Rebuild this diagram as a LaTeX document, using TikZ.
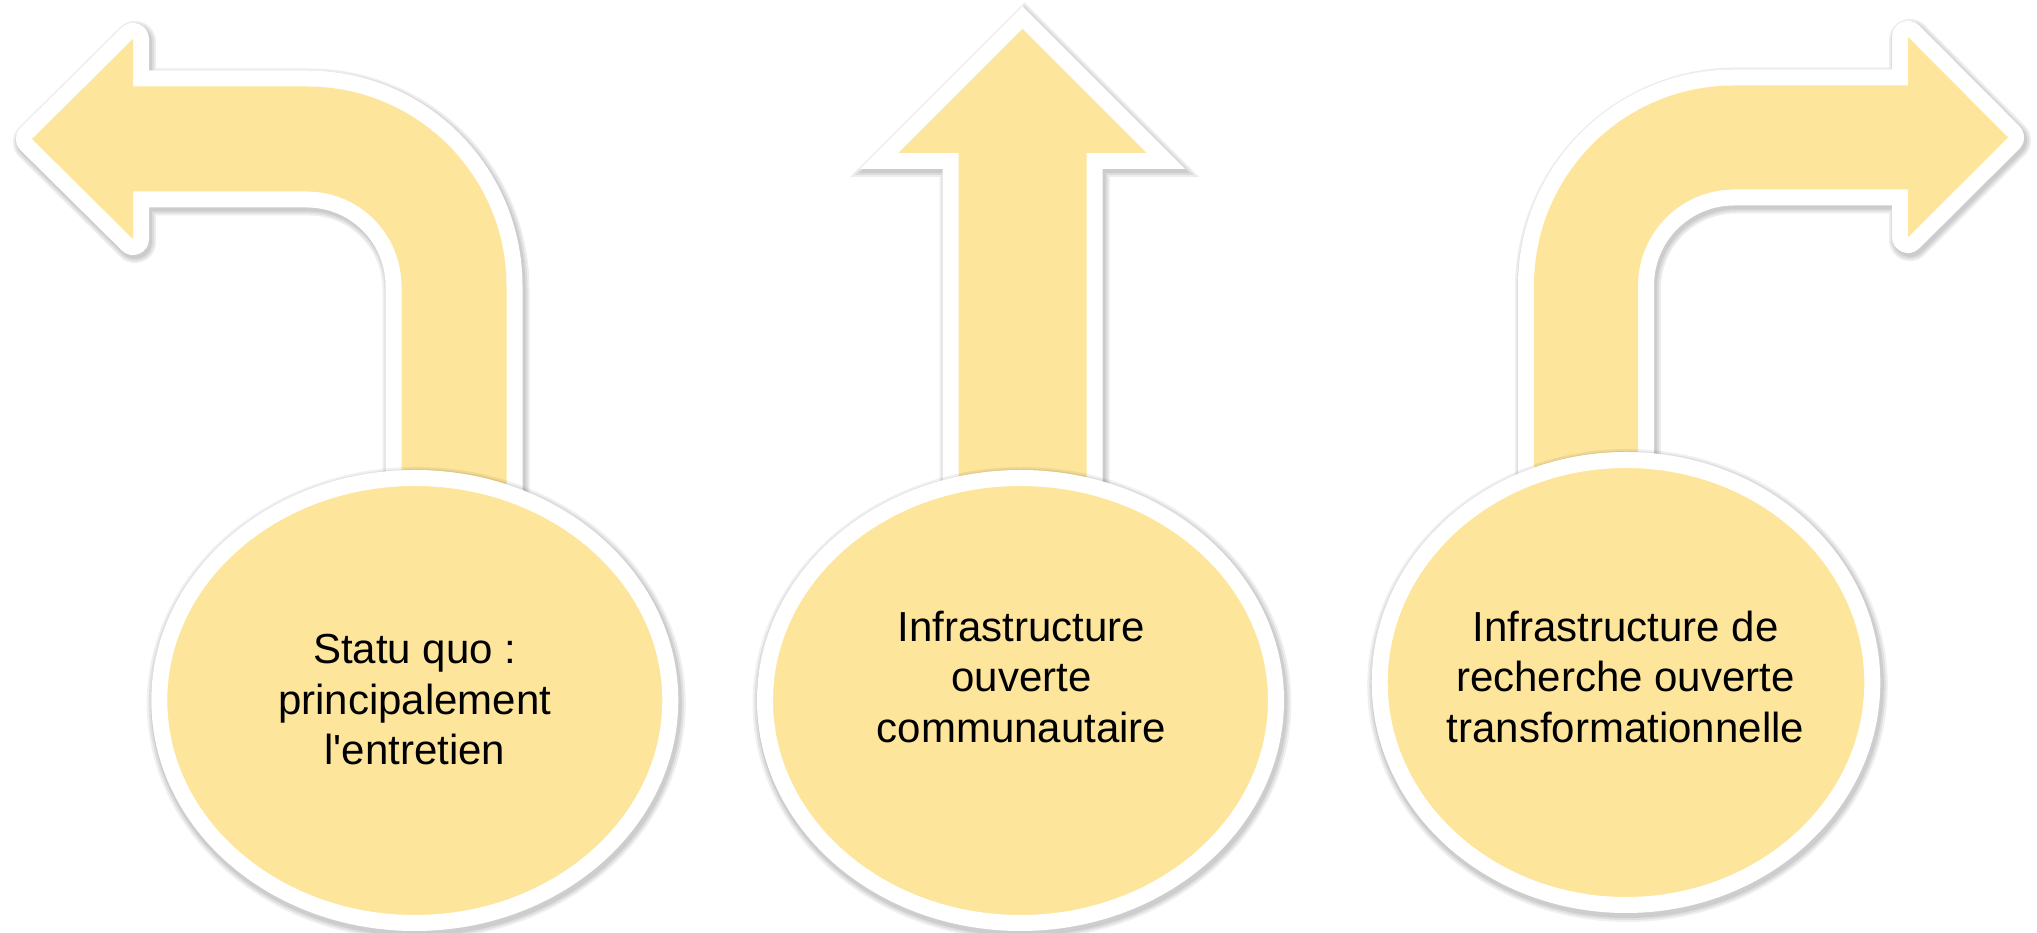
\documentclass[tikz,border=0pt]{standalone}
\usepackage{fontspec}
\setmainfont{Liberation Sans}
\usetikzlibrary{shapes.geometric}
\definecolor{gold}{RGB}{253,229,155}
\newcommand{\apos}{\XeTeXglyph\XeTeXcharglyph"27 }
\begin{document}
\begin{tikzpicture}[x=1pt,y=1pt,
  arrL/.style={insert path={(506.5,373) -- (506.5,647) arc[start angle=0,end angle=90,radius=199.5pt] -- (133,846.5) -- (133,894) -- (32,794) -- (133,694) -- (133,741.5) -- (307,741.5) arc[start angle=90,end angle=0,radius=94.5pt] -- (401.5,373) -- cycle}},
  arrM/.style={insert path={(958.5,373) -- (958.5,780) -- (898.5,780) -- (1022.5,904) -- (1146.5,780) -- (1086.5,780) -- (1086.5,373) -- cycle}},
  arrR/.style={insert path={(1534,373) -- (1534,647.5) arc[start angle=180,end angle=90,radius=200pt] -- (1908,847.5) -- (1908,896) -- (2008,795.5) -- (1908,696) -- (1908,743.5) -- (1734,743.5) arc[start angle=90,end angle=180,radius=96pt] -- (1638,373) -- cycle}},
  shadowline/.style={draw=black, line width=#1, opacity=0.07, shift={(2,-3)}},
  rim/.style={draw=white, line width=32pt},
  body/.style={fill=gold},
  bubble/.style={ellipse, draw=white, line width=16pt, fill=gold, inner sep=0pt,
    minimum height=445pt,
    preaction={draw=black, opacity=0.06, line width=28pt, transform canvas={shift={(1.5pt,-3pt)}}},
    preaction={draw=black, opacity=0.07, line width=24pt, transform canvas={shift={(1.5pt,-3pt)}}},
    preaction={draw=black, opacity=0.08, line width=20pt, transform canvas={shift={(1.5pt,-3pt)}}}},
  label/.style={align=center, inner sep=0pt, text=black,
    font=\fontsize{42pt}{50.5pt}\selectfont}
]
\useasboundingbox (0,0) rectangle (2037,933);
\fill[white] (0,0) rectangle (2037,933);

% shadows of the arrows
\foreach \w in {42pt,38pt,34pt}{
  \path[shadowline=\w, line join=round, arrL];
  \path[shadowline=\w, line join=miter, arrM];
  \path[shadowline=\w, line join=round, arrR];
}
% arrows
\path[rim, line join=round, arrL];
\path[body, arrL];
\path[rim, line join=miter, arrM];
\path[body, arrM];
\path[rim, line join=round, arrR];
\path[body, arrR];

% bubbles
\node[bubble, minimum width=511pt] (e1) at (414.8,232.5) {};
\node[bubble, minimum width=511pt] (e2) at (1020.5,232.5) {};
\node[bubble, minimum width=492.6pt] (e3) at (1626,250.5) {};

% texts
\node[label] (t1) at (414.8,233.3) {Statu quo :\\principalement\\l\apos entretien};
\node[label] (t2) at (1021.5,256.3) {Infrastructure\\ouverte\\communautaire};
\node[label] (t3) at (1625.5,256.2) {Infrastructure de\\recherche ouverte\\transformationnelle};
\end{tikzpicture}
\end{document}
